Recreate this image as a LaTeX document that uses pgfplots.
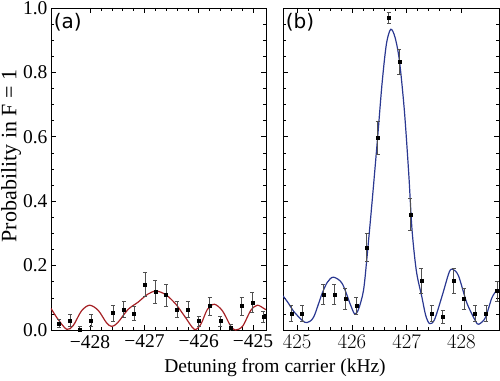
\documentclass[border=0pt]{standalone}
\usepackage{fontspec}
\setmainfont{Liberation Serif}
\newfontfamily\panelfont{DejaVu Sans}
\usepackage{pgfplots}
\pgfplotsset{compat=1.18}
\definecolor{fitred}{RGB}{165,32,36}
\definecolor{fitblue}{RGB}{42,56,145}
\definecolor{errgray}{RGB}{80,80,80}
\pgfplotsset{
  panel/.style={
    scale only axis, height=322pt, ymin=0, ymax=1,
    axis line style={line width=0.8pt},
    tick align=inside, tick pos=both,
    major tick length=5pt, minor tick length=3pt,
    every tick/.style={line width=0.6pt, black},
    minor x tick num=4, minor y tick num=3,
    ytick={0,0.2,0.4,0.6,0.8,1.0},
    tick label style={font=\fontsize{19.5}{20}\selectfont, text=black},
    xticklabel style={yshift=-1.5pt},
    clip=true,
  },
  datapts/.style={only marks, mark=square*, mark size=1.5pt, black,
    error bars/.cd, y dir=both, y explicit,
    error bar style={errgray, line width=0.6pt},
    error mark options={rotate=90, mark size=2pt, errgray, line width=0.6pt}},
}
\begin{document}
\begin{tikzpicture}
\begin{axis}[panel, at={(0pt,0pt)}, anchor=south west, width=215pt,
  xmin=-428.72, xmax=-424.76,
  xtick={-428,-427,-426,-425},
  xticklabels={−428,−427,−426,−425},
  yticklabels={0.0,0.2,0.4,0.6,0.8,1.0}]
\addplot[fitred, line width=1.2pt, smooth, tension=0.5] coordinates {
(-428.72,0.067) (-428.59,0.033) (-428.43,0.002) (-428.31,0.014) (-428.16,0.059)
(-428.01,0.077) (-427.85,0.061) (-427.70,0.023) (-427.60,0.011) (-427.49,0.023)
(-427.30,0.064) (-427.12,0.086) (-426.94,0.111) (-426.78,0.121) (-426.60,0.109)
(-426.42,0.080) (-426.26,0.043) (-426.08,0.002) (-425.96,0.018) (-425.84,0.064)
(-425.71,0.080) (-425.56,0.059) (-425.41,0.012) (-425.32,0.000) (-425.19,0.012)
(-425.04,0.061) (-424.92,0.077) (-424.80,0.067) (-424.76,0.063)};
\addplot[datapts] table[x=x, y=y, y error=e] {
x y e
-428.57 0.021 0.013
-428.37 0.030 0.019
-428.19 0.000 0.010
-427.98 0.029 0.019
-427.58 0.053 0.025
-427.38 0.064 0.026
-427.19 0.052 0.022
-426.99 0.142 0.036
-426.80 0.119 0.035
-426.60 0.109 0.034
-426.40 0.064 0.026
-426.20 0.064 0.026
-426.00 0.028 0.016
-425.80 0.075 0.028
-425.60 0.028 0.016
-425.41 0.007 0.010
-425.21 0.075 0.028
-425.01 0.085 0.031
-424.81 0.041 0.018
};
\node[anchor=north west, inner sep=0pt, font=\panelfont\fontsize{20}{20}\selectfont] at (rel axis cs:0.012,0.984) {(a)};
\end{axis}
\begin{axis}[panel, at={(232pt,0pt)}, anchor=south west, width=216pt,
  xmin=424.74, xmax=428.69,
  xtick={425,426,427,428},
  yticklabels={}]
\addplot[fitblue, line width=1.2pt, smooth, tension=0.5] coordinates {
(424.74,0.106) (424.84,0.083) (424.93,0.059) (425.09,0.030) (425.18,0.023)
(425.30,0.040) (425.45,0.111) (425.55,0.148) (425.66,0.164) (425.82,0.145)
(425.97,0.080) (426.05,0.050) (426.12,0.064) (426.21,0.121) (426.27,0.215)
(426.37,0.400) (426.47,0.597) (426.55,0.763) (426.63,0.887) (426.71,0.934)
(426.79,0.908) (426.87,0.835) (426.96,0.680) (427.04,0.484) (427.10,0.310)
(427.18,0.182) (427.28,0.102) (427.35,0.045) (427.42,0.020) (427.51,0.032)
(427.65,0.106) (427.78,0.180) (427.85,0.188) (427.95,0.168) (428.10,0.085)
(428.26,0.028) (428.32,0.018) (428.44,0.038) (428.56,0.100) (428.65,0.123)
(428.69,0.125)};
\addplot[datapts] table[x=x, y=y, y error=e] {
x y e
424.89 0.052 0.025
425.09 0.052 0.025
425.48 0.111 0.032
425.68 0.111 0.032
425.88 0.097 0.033
426.08 0.076 0.027
426.27 0.256 0.044
426.47 0.597 0.051
426.67 0.970 0.017
426.87 0.833 0.038
427.07 0.359 0.049
427.27 0.154 0.039
427.46 0.052 0.025
427.66 0.041 0.020
427.86 0.154 0.039
428.05 0.097 0.033
428.25 0.052 0.025
428.45 0.052 0.025
428.65 0.121 0.031
};
\node[anchor=north west, inner sep=0pt, font=\panelfont\fontsize{20}{20}\selectfont] at (rel axis cs:0.012,0.984) {(b)};
\end{axis}
\node[anchor=base, font=\fontsize{19.5}{20}\selectfont] at (224pt,-42pt) {Detuning from carrier (kHz)};
\node[anchor=base, rotate=90, font=\fontsize{22}{22}\selectfont] at (-34.5pt,174pt) {Probability in F = 1};
\pgfresetboundingbox
\path[use as bounding box] (-51pt,-50pt) rectangle (449pt,330pt);
\end{tikzpicture}
\end{document}
